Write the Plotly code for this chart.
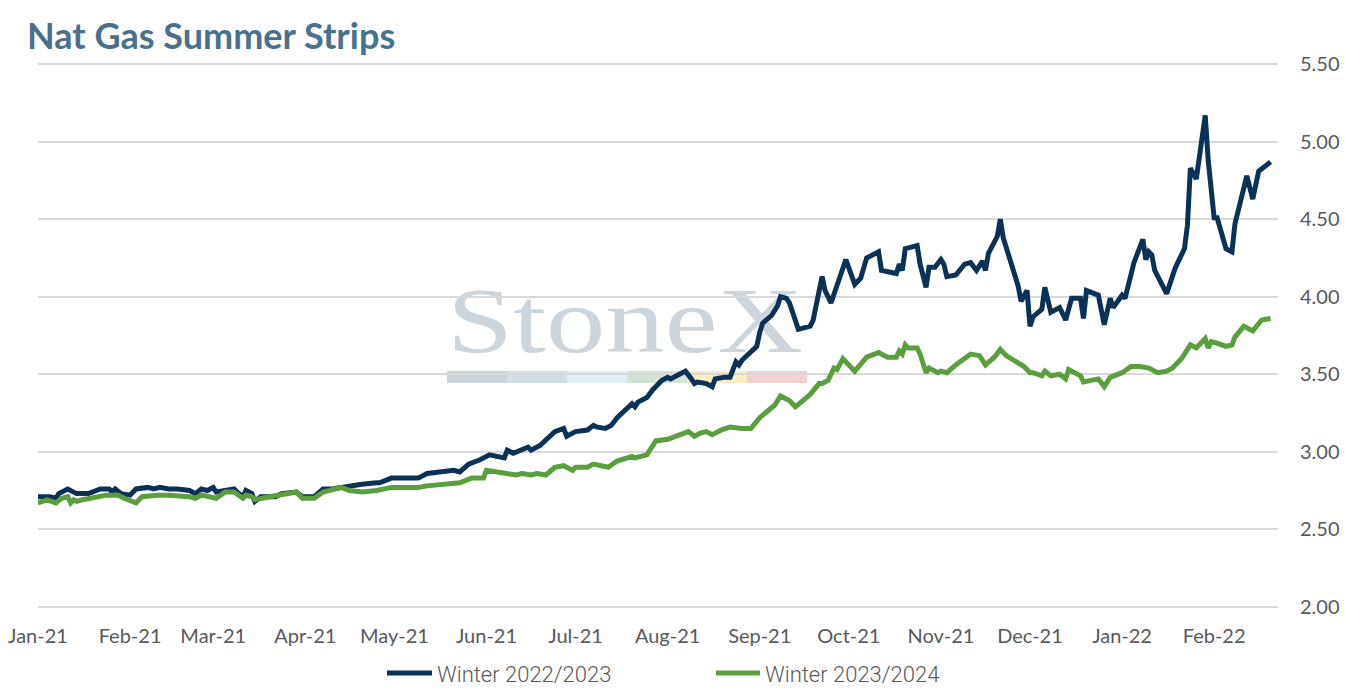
import base64
import plotly.graph_objects as go

# Winter 2022/2023 strip
dates_w22 = [
    "2021-01-01", "2021-01-05", "2021-01-07", "2021-01-08", "2021-01-11", "2021-01-12",
    "2021-01-14", "2021-01-18", "2021-01-22", "2021-01-25", "2021-01-26", "2021-01-27",
    "2021-01-29", "2021-02-01", "2021-02-03", "2021-02-07", "2021-02-09", "2021-02-11",
    "2021-02-14", "2021-02-17", "2021-02-21", "2021-02-23", "2021-02-25", "2021-02-27",
    "2021-03-01", "2021-03-02", "2021-03-05", "2021-03-08", "2021-03-09", "2021-03-11",
    "2021-03-12", "2021-03-14", "2021-03-15", "2021-03-17", "2021-03-22", "2021-03-24",
    "2021-03-29", "2021-03-31", "2021-04-04", "2021-04-07", "2021-04-10", "2021-04-13",
    "2021-04-16", "2021-04-18", "2021-04-20", "2021-04-25", "2021-04-26", "2021-04-30",
    "2021-05-05", "2021-05-09", "2021-05-12", "2021-05-18", "2021-05-21", "2021-05-23",
    "2021-05-26", "2021-05-30", "2021-06-02", "2021-06-07", "2021-06-08", "2021-06-10",
    "2021-06-15", "2021-06-16", "2021-06-19", "2021-06-24", "2021-06-27", "2021-06-28",
    "2021-07-01", "2021-07-05", "2021-07-07", "2021-07-08", "2021-07-11", "2021-07-13",
    "2021-07-15", "2021-07-20", "2021-07-21", "2021-07-22", "2021-07-25", "2021-07-27",
    "2021-07-30", "2021-08-01", "2021-08-02", "2021-08-04", "2021-08-07", "2021-08-09",
    "2021-08-10", "2021-08-11", "2021-08-14", "2021-08-16", "2021-08-17", "2021-08-20",
    "2021-08-22", "2021-08-24", "2021-08-25", "2021-08-26", "2021-08-29", "2021-08-31",
    "2021-09-01", "2021-09-02", "2021-09-05", "2021-09-07", "2021-09-08", "2021-09-10",
    "2021-09-11", "2021-09-14", "2021-09-18", "2021-09-19", "2021-09-22", "2021-09-23",
    "2021-09-25", "2021-09-27", "2021-09-29", "2021-09-30",
    "2021-10-03", "2021-10-05", "2021-10-07", "2021-10-11", "2021-10-12", "2021-10-17",
    "2021-10-18", "2021-10-19", "2021-10-20", "2021-10-24", "2021-10-25", "2021-10-27",
    "2021-10-28", "2021-10-30", "2021-11-01", "2021-11-02", "2021-11-03", "2021-11-06",
    "2021-11-09", "2021-11-11", "2021-11-13", "2021-11-15", "2021-11-16", "2021-11-17",
    "2021-11-20", "2021-11-21", "2021-11-22", "2021-11-25", "2021-11-27", "2021-11-28",
    "2021-11-30", "2021-12-01", "2021-12-02", "2021-12-05", "2021-12-06", "2021-12-08",
    "2021-12-11", "2021-12-13", "2021-12-15", "2021-12-18", "2021-12-19", "2021-12-20",
    "2021-12-24", "2021-12-26", "2021-12-28", "2021-12-29", "2022-01-01", "2022-01-02",
    "2022-01-05", "2022-01-08", "2022-01-09", "2022-01-10", "2022-01-11", "2022-01-12",
    "2022-01-16", "2022-01-19", "2022-01-22", "2022-01-23", "2022-01-24", "2022-01-26",
    "2022-01-29", "2022-01-30", "2022-02-01", "2022-02-02", "2022-02-05", "2022-02-07",
    "2022-02-08", "2022-02-12", "2022-02-14", "2022-02-16", "2022-02-20",
]
values_w22 = [
    2.71, 2.71, 2.70, 2.73, 2.76, 2.75,
    2.73, 2.73, 2.76, 2.76, 2.74, 2.76,
    2.73, 2.72, 2.76, 2.77, 2.76, 2.77,
    2.76, 2.76, 2.75, 2.73, 2.76, 2.75,
    2.77, 2.74, 2.75, 2.76, 2.74, 2.71,
    2.75, 2.73, 2.68, 2.71, 2.71, 2.73,
    2.74, 2.71, 2.71, 2.76, 2.76, 2.77,
    2.78, 2.78, 2.79, 2.80, 2.80, 2.83,
    2.83, 2.83, 2.86, 2.87, 2.88, 2.87,
    2.92, 2.95, 2.98, 2.96, 3.01, 2.99,
    3.03, 3.01, 3.04, 3.13, 3.15, 3.10,
    3.13, 3.14, 3.17, 3.16, 3.15, 3.17,
    3.22, 3.31, 3.29, 3.32, 3.35, 3.40,
    3.46, 3.48, 3.47, 3.49, 3.52, 3.47,
    3.44, 3.45, 3.44, 3.42, 3.47, 3.48,
    3.48, 3.58, 3.56, 3.59, 3.64, 3.68,
    3.77, 3.83, 3.88, 3.94, 4.00, 3.99,
    3.96, 3.79, 3.81, 3.85, 4.13, 4.04,
    3.96, 4.07, 4.17, 4.24,
    4.08, 4.12, 4.25, 4.29, 4.17, 4.15,
    4.21, 4.17, 4.31, 4.33, 4.21, 4.06,
    4.19, 4.19, 4.24, 4.21, 4.13, 4.14,
    4.21, 4.22, 4.17, 4.23, 4.17, 4.28,
    4.39, 4.50, 4.38, 4.20, 4.07, 3.97,
    4.04, 3.81, 3.87, 3.92, 4.06, 3.90,
    3.93, 3.85, 3.99, 3.99, 3.86, 4.04,
    4.01, 3.82, 3.99, 3.93, 4.01, 3.99,
    4.22, 4.37, 4.24, 4.29, 4.27, 4.17,
    4.02, 4.19, 4.31, 4.46, 4.83, 4.76,
    5.17, 4.88, 4.51, 4.51, 4.31, 4.29,
    4.47, 4.78, 4.63, 4.81, 4.87,
]

# Winter 2023/2024 strip
dates_w23 = [
    "2021-01-01", "2021-01-04", "2021-01-07", "2021-01-09", "2021-01-11", "2021-01-12",
    "2021-01-13", "2021-01-14", "2021-01-16", "2021-01-19", "2021-01-21", "2021-01-24",
    "2021-01-28", "2021-01-30", "2021-02-03", "2021-02-05", "2021-02-10", "2021-02-14",
    "2021-02-21", "2021-02-23", "2021-02-25", "2021-03-02", "2021-03-05", "2021-03-08",
    "2021-03-11", "2021-03-12", "2021-03-14", "2021-03-15", "2021-03-20", "2021-03-24",
    "2021-03-29", "2021-03-31", "2021-04-04", "2021-04-07", "2021-04-11", "2021-04-13",
    "2021-04-16", "2021-04-20", "2021-04-25", "2021-04-30", "2021-05-03", "2021-05-09",
    "2021-05-12", "2021-05-19", "2021-05-23", "2021-05-27", "2021-05-31", "2021-06-01",
    "2021-06-05", "2021-06-08", "2021-06-11", "2021-06-13", "2021-06-16", "2021-06-18",
    "2021-06-21", "2021-06-24", "2021-06-27", "2021-06-30", "2021-07-01", "2021-07-05",
    "2021-07-07", "2021-07-12", "2021-07-15", "2021-07-20", "2021-07-21", "2021-07-25",
    "2021-07-28", "2021-08-01", "2021-08-04", "2021-08-07", "2021-08-08", "2021-08-10",
    "2021-08-12", "2021-08-14", "2021-08-16", "2021-08-19", "2021-08-22", "2021-08-26",
    "2021-08-29", "2021-09-01", "2021-09-03", "2021-09-06", "2021-09-08", "2021-09-11",
    "2021-09-13", "2021-09-16", "2021-09-18", "2021-09-21", "2021-09-22", "2021-09-24",
    "2021-09-26", "2021-09-27", "2021-09-29", "2021-10-03", "2021-10-07", "2021-10-11",
    "2021-10-14", "2021-10-17", "2021-10-18", "2021-10-19", "2021-10-20", "2021-10-21",
    "2021-10-24", "2021-10-25", "2021-10-27", "2021-10-28", "2021-10-31", "2021-11-01",
    "2021-11-03", "2021-11-06", "2021-11-11", "2021-11-14", "2021-11-16", "2021-11-19",
    "2021-11-21", "2021-11-23", "2021-11-27", "2021-11-29", "2021-12-01", "2021-12-02",
    "2021-12-05", "2021-12-06", "2021-12-08", "2021-12-11", "2021-12-13", "2021-12-14",
    "2021-12-18", "2021-12-19", "2021-12-24", "2021-12-26", "2021-12-28", "2022-01-01",
    "2022-01-04", "2022-01-07", "2022-01-10", "2022-01-13", "2022-01-16", "2022-01-18",
    "2022-01-21", "2022-01-24", "2022-01-26", "2022-01-29", "2022-01-30", "2022-01-31",
    "2022-02-02", "2022-02-05", "2022-02-07", "2022-02-08", "2022-02-11", "2022-02-14",
    "2022-02-17", "2022-02-20",
]
values_w23 = [
    2.67, 2.69, 2.67, 2.70, 2.71, 2.67,
    2.69, 2.68, 2.69, 2.70, 2.71, 2.72,
    2.72, 2.70, 2.67, 2.71, 2.72, 2.72,
    2.71, 2.70, 2.72, 2.70, 2.74, 2.74,
    2.70, 2.72, 2.71, 2.69, 2.71, 2.72,
    2.74, 2.70, 2.70, 2.74, 2.76, 2.77,
    2.75, 2.74, 2.75, 2.77, 2.77, 2.77,
    2.78, 2.79, 2.80, 2.83, 2.83, 2.88,
    2.87, 2.86, 2.85, 2.86, 2.85, 2.86,
    2.85, 2.90, 2.91, 2.88, 2.90, 2.90,
    2.92, 2.90, 2.94, 2.97, 2.96, 2.98,
    3.07, 3.08, 3.10, 3.12, 3.13, 3.10,
    3.12, 3.13, 3.11, 3.14, 3.16, 3.15,
    3.15, 3.22, 3.25, 3.30, 3.36, 3.33,
    3.29, 3.34, 3.37, 3.44, 3.44, 3.46,
    3.54, 3.53, 3.60, 3.52, 3.61, 3.64,
    3.61, 3.61, 3.65, 3.63, 3.69, 3.67,
    3.67, 3.63, 3.51, 3.54, 3.51, 3.52,
    3.51, 3.56, 3.63, 3.62, 3.56, 3.61,
    3.66, 3.62, 3.57, 3.55, 3.51, 3.51,
    3.49, 3.52, 3.49, 3.50, 3.47, 3.53,
    3.49, 3.45, 3.47, 3.42, 3.48, 3.51,
    3.55, 3.55, 3.54, 3.51, 3.52, 3.54,
    3.60, 3.69, 3.67, 3.73, 3.67, 3.71,
    3.70, 3.68, 3.69, 3.74, 3.81, 3.78,
    3.85, 3.86,
]

series_names = ["Winter 2022/2023", "Winter 2023/2024"]
series_colors = ["#0b3156", "#5b9e3d"]

# StoneX watermark colours (text, then the strip under it)
watermark_text_color = "#cdd5dc"
watermark_colors = ["#ccd3db", "#d3dee9", "#e2edf5", "#d3e3d6", "#fbecc8", "#f0d2d2"]

W, H = 1345, 692
L, R, T, B = 38, 67, 63, 84
PW, PH = W - L - R, H - T - B


def px_x(px):
    return (px - L) / PW


def px_y(py):
    return (H - B - py) / PH


fig = go.Figure()

for dates, vals, name, color in [
    (dates_w22, values_w22, series_names[0], series_colors[0]),
    (dates_w23, values_w23, series_names[1], series_colors[1]),
]:
    fig.add_trace(go.Scatter(
        x=dates, y=vals, mode="lines", name=name, showlegend=False,
        line=dict(color=color, width=5),
    ))

# watermark drawn as svg image below the lines
bars = "".join(
    f'<rect x="{i * 60}" y="86" width="60" height="12" fill="{c}"/>'
    for i, c in enumerate(watermark_colors)
)
svg = (
    '<svg xmlns="http://www.w3.org/2000/svg" width="360" height="98" viewBox="0 0 360 98" '
    'preserveAspectRatio="none">'
    f'<text x="0" y="67" font-family="Liberation Serif" font-size="94" fill="{watermark_text_color}" '
    'textLength="356" lengthAdjust="spacingAndGlyphs">StoneX</text>'
    f'{bars}</svg>'
)
fig.add_layout_image(dict(
    source="data:image/svg+xml;base64," + base64.b64encode(svg.encode()).decode(),
    xref="paper", yref="paper", x=px_x(447), y=px_y(285),
    sizex=360 / PW, sizey=98 / PH, xanchor="left", yanchor="top",
    sizing="stretch", layer="below",
))

# legend drawn by hand so the line keys are as long as in the original
legend_items = [(387, 432, 435), (716, 760, 763)]
for (x0, x1, xt), name, color in zip(legend_items, series_names, series_colors):
    fig.add_shape(
        type="line", xref="paper", yref="paper",
        x0=px_x(x0), x1=px_x(x1), y0=px_y(673), y1=px_y(673),
        line=dict(color=color, width=5),
    )
    fig.add_annotation(
        text=name, xref="paper", yref="paper", x=px_x(xt), y=px_y(674),
        xanchor="left", yanchor="middle", showarrow=False,
        font=dict(family="Roboto", size=22, color="#595959", weight=300),
    )

fig.update_layout(
    width=W, height=H,
    margin=dict(l=L, r=R, t=T, b=B),
    paper_bgcolor="white", plot_bgcolor="white",
    showlegend=False,
    title=dict(
        text="<b>Nat Gas Summer Strips</b>",
        x=27 / W, xanchor="left", y=1 - 36 / H, yanchor="middle",
        font=dict(family="Lato", size=36, color="#4a708b"),
    ),
    xaxis=dict(
        type="date", range=["2021-01-01", "2022-02-22 12:00"],
        dtick="M1", tick0="2021-01-01", tickformat="%b-%y",
        showgrid=False, zeroline=False, showline=False, ticks="",
        tickfont=dict(family="Lato", size=20, color="#595959"),
        ticklabelstandoff=14, automargin=False,
    ),
    yaxis=dict(
        # range padded a hair so the 2.00 and 5.50 grid lines are drawn
        side="right", range=[1.992, 5.508], dtick=0.5, tick0=2, tickformat=".2f",
        showgrid=True, gridcolor="#d9d9d9", gridwidth=1.5,
        zeroline=False, showline=False, ticks="",
        tickfont=dict(family="Lato", size=20, color="#595959"),
        ticklabelstandoff=21, automargin=False,
    ),
)

fig.write_html(
    "out.html",
    config={"displayModeBar": False},
    post_script="document.body.style.margin='0px';",
)
